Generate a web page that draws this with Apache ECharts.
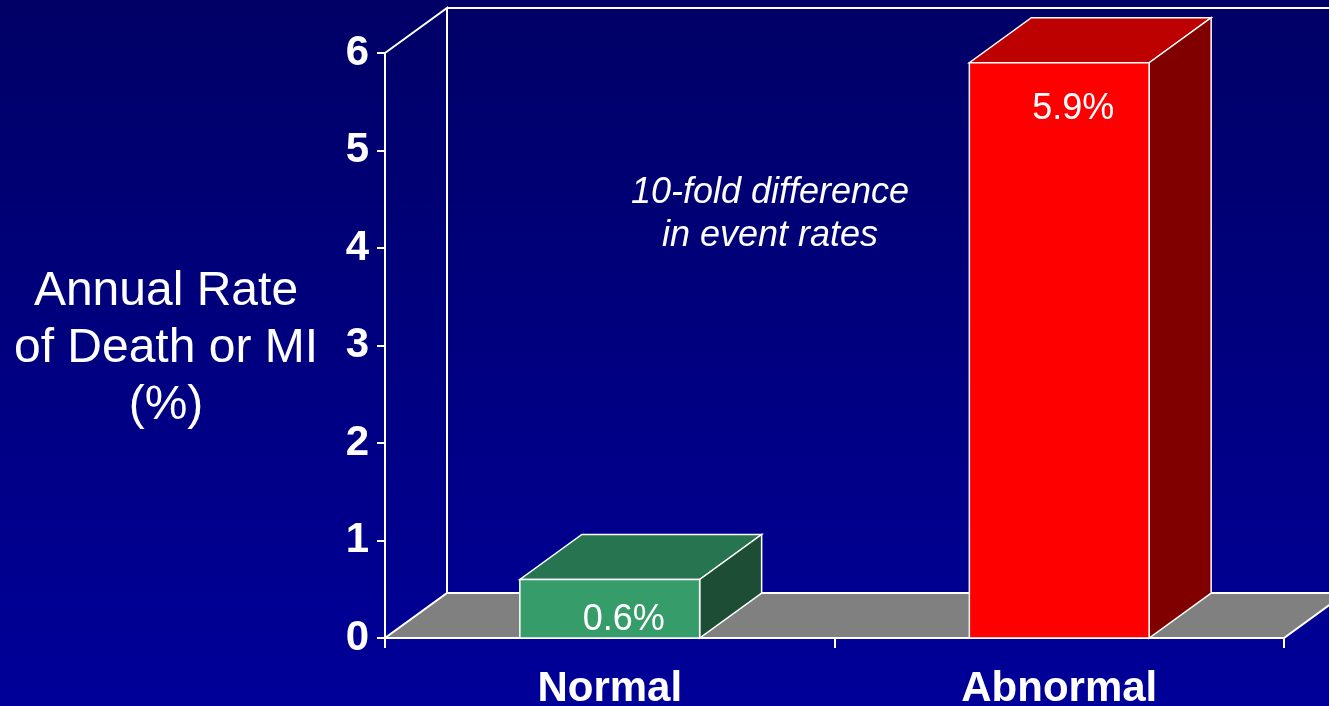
<!DOCTYPE html>
<html>
<head>
<meta charset="utf-8">
<script src="https://cdn.jsdelivr.net/npm/echarts@6/dist/echarts.min.js"></script>
<style>
html, body { margin: 0; padding: 0; }
#chart { width: 1329px; height: 706px; }
</style>
</head>
<body>
<div id="chart"></div>
<script>
// data
var categories = ['Normal', 'Abnormal'];
var rates = [0.6, 5.9];
var yTicks = [0, 1, 2, 3, 4, 5, 6];

// colours per bar: front, top, side
var frontColors = ['#369c69', '#ff0000'];
var topColors = ['#267550', '#bd0000'];
var sideColors = ['#1d4e35', '#800000'];

var FONT = '"Liberation Sans", Arial, sans-serif';
var DX = 62, DY = -45; // depth of the 3d look

var chart = echarts.init(document.getElementById('chart'));

function renderFrame(params, api) {
    var cs = params.coordSys;
    var x0 = cs.x, x1 = cs.x + cs.width;
    var yt = cs.y, yb = cs.y + cs.height;
    return {
        type: 'group',
        children: [
            { // floor
                type: 'polygon',
                shape: { points: [[x0, yb], [x1, yb], [x1 + DX, yb + DY], [x0 + DX, yb + DY]] },
                style: { fill: '#808080', stroke: '#ffffff', lineWidth: 2 }
            },
            { // left wall edge + back corner
                type: 'polyline',
                shape: { points: [[x0, yt], [x0 + DX, yt + DY], [x0 + DX, yb + DY]] },
                style: { fill: null, stroke: '#ffffff', lineWidth: 2 }
            },
            { // back wall top
                type: 'line',
                shape: { x1: x0 + DX, y1: yt + DY, x2: x1 + DX + 40, y2: yt + DY },
                style: { stroke: '#ffffff', lineWidth: 2 }
            }
        ]
    };
}

function renderBar(params, api) {
    var i = params.dataIndex;
    var top = api.coord([api.value(0), api.value(1)]);
    var base = api.coord([api.value(0), 0]);
    var w = api.size([1, 0])[0] * 0.4;
    var xa = top[0] - w / 2, xb = top[0] + w / 2;
    var yt = top[1], yb = base[1];
    var edge = { stroke: '#ffffff', lineWidth: 1.5 };
    return {
        type: 'group',
        children: [
            {
                type: 'polygon',
                shape: { points: [[xa, yt], [xb, yt], [xb + DX, yt + DY], [xa + DX, yt + DY]] },
                style: Object.assign({ fill: topColors[i] }, edge)
            },
            {
                type: 'polygon',
                shape: { points: [[xb, yt], [xb + DX, yt + DY], [xb + DX, yb + DY], [xb, yb]] },
                style: Object.assign({ fill: sideColors[i] }, edge)
            },
            {
                type: 'rect',
                shape: { x: xa, y: yt, width: w, height: yb - yt },
                style: Object.assign({ fill: frontColors[i] }, edge)
            },
            {
                type: 'text',
                x: top[0] + 14,
                y: Math.min(yt + 46, yb - 18),
                style: {
                    text: api.value(1).toFixed(1) + '%',
                    align: 'center',
                    verticalAlign: 'middle',
                    fill: '#ffffff',
                    fontSize: 36,
                    fontFamily: FONT
                }
            }
        ]
    };
}

var option = {
    backgroundColor: new echarts.graphic.LinearGradient(0, 0, 0, 1, [
        { offset: 0, color: '#000066' },
        { offset: 1, color: '#000099' }
    ]),
    animation: false,
    grid: { left: 385, top: 53, width: 899, height: 585, containLabel: false, outerBoundsMode: 'none' },
    xAxis: {
        type: 'category',
        data: categories,
        axisLine: { lineStyle: { color: '#ffffff', width: 2 } },
        axisTick: { show: true, interval: 0, length: 10, lineStyle: { color: '#ffffff', width: 2 } },
        axisLabel: { color: '#ffffff', fontSize: 42, fontWeight: 'bold', fontFamily: FONT, margin: 30 },
        splitLine: { show: false }
    },
    yAxis: {
        type: 'value',
        min: yTicks[0],
        max: yTicks[yTicks.length - 1],
        interval: 1,
        axisLine: { show: true, lineStyle: { color: '#ffffff', width: 2 } },
        axisTick: { show: true, length: 8, lineStyle: { color: '#ffffff', width: 2 } },
        axisLabel: { color: '#ffffff', fontSize: 42, fontWeight: 'bold', fontFamily: FONT, margin: 16, padding: [7, 0, 0, 0] },
        splitLine: { show: false }
    },
    graphic: [
        {
            type: 'text',
            x: 166,
            y: 349,
            style: {
                text: 'Annual Rate\nof Death or MI\n(%)',
                align: 'center',
                verticalAlign: 'middle',
                fill: '#ffffff',
                fontSize: 48,
                lineHeight: 57,
                fontFamily: FONT
            }
        },
        {
            type: 'text',
            x: 770,
            y: 214,
            style: {
                text: '10-fold difference\nin event rates',
                align: 'center',
                verticalAlign: 'middle',
                fill: '#ffffff',
                fontSize: 36,
                fontStyle: 'italic',
                lineHeight: 43,
                fontFamily: FONT
            }
        }
    ],
    series: [
        {
            type: 'custom',
            renderItem: renderFrame,
            data: [[0, 0]],
            z: 1,
            silent: true
        },
        {
            type: 'custom',
            renderItem: renderBar,
            data: categories.map(function (c, i) { return [i, rates[i]]; }),
            z: 3,
            silent: true
        }
    ]
};

chart.setOption(option);
window.addEventListener('resize', function () { chart.resize(); });
</script>
</body>
</html>
